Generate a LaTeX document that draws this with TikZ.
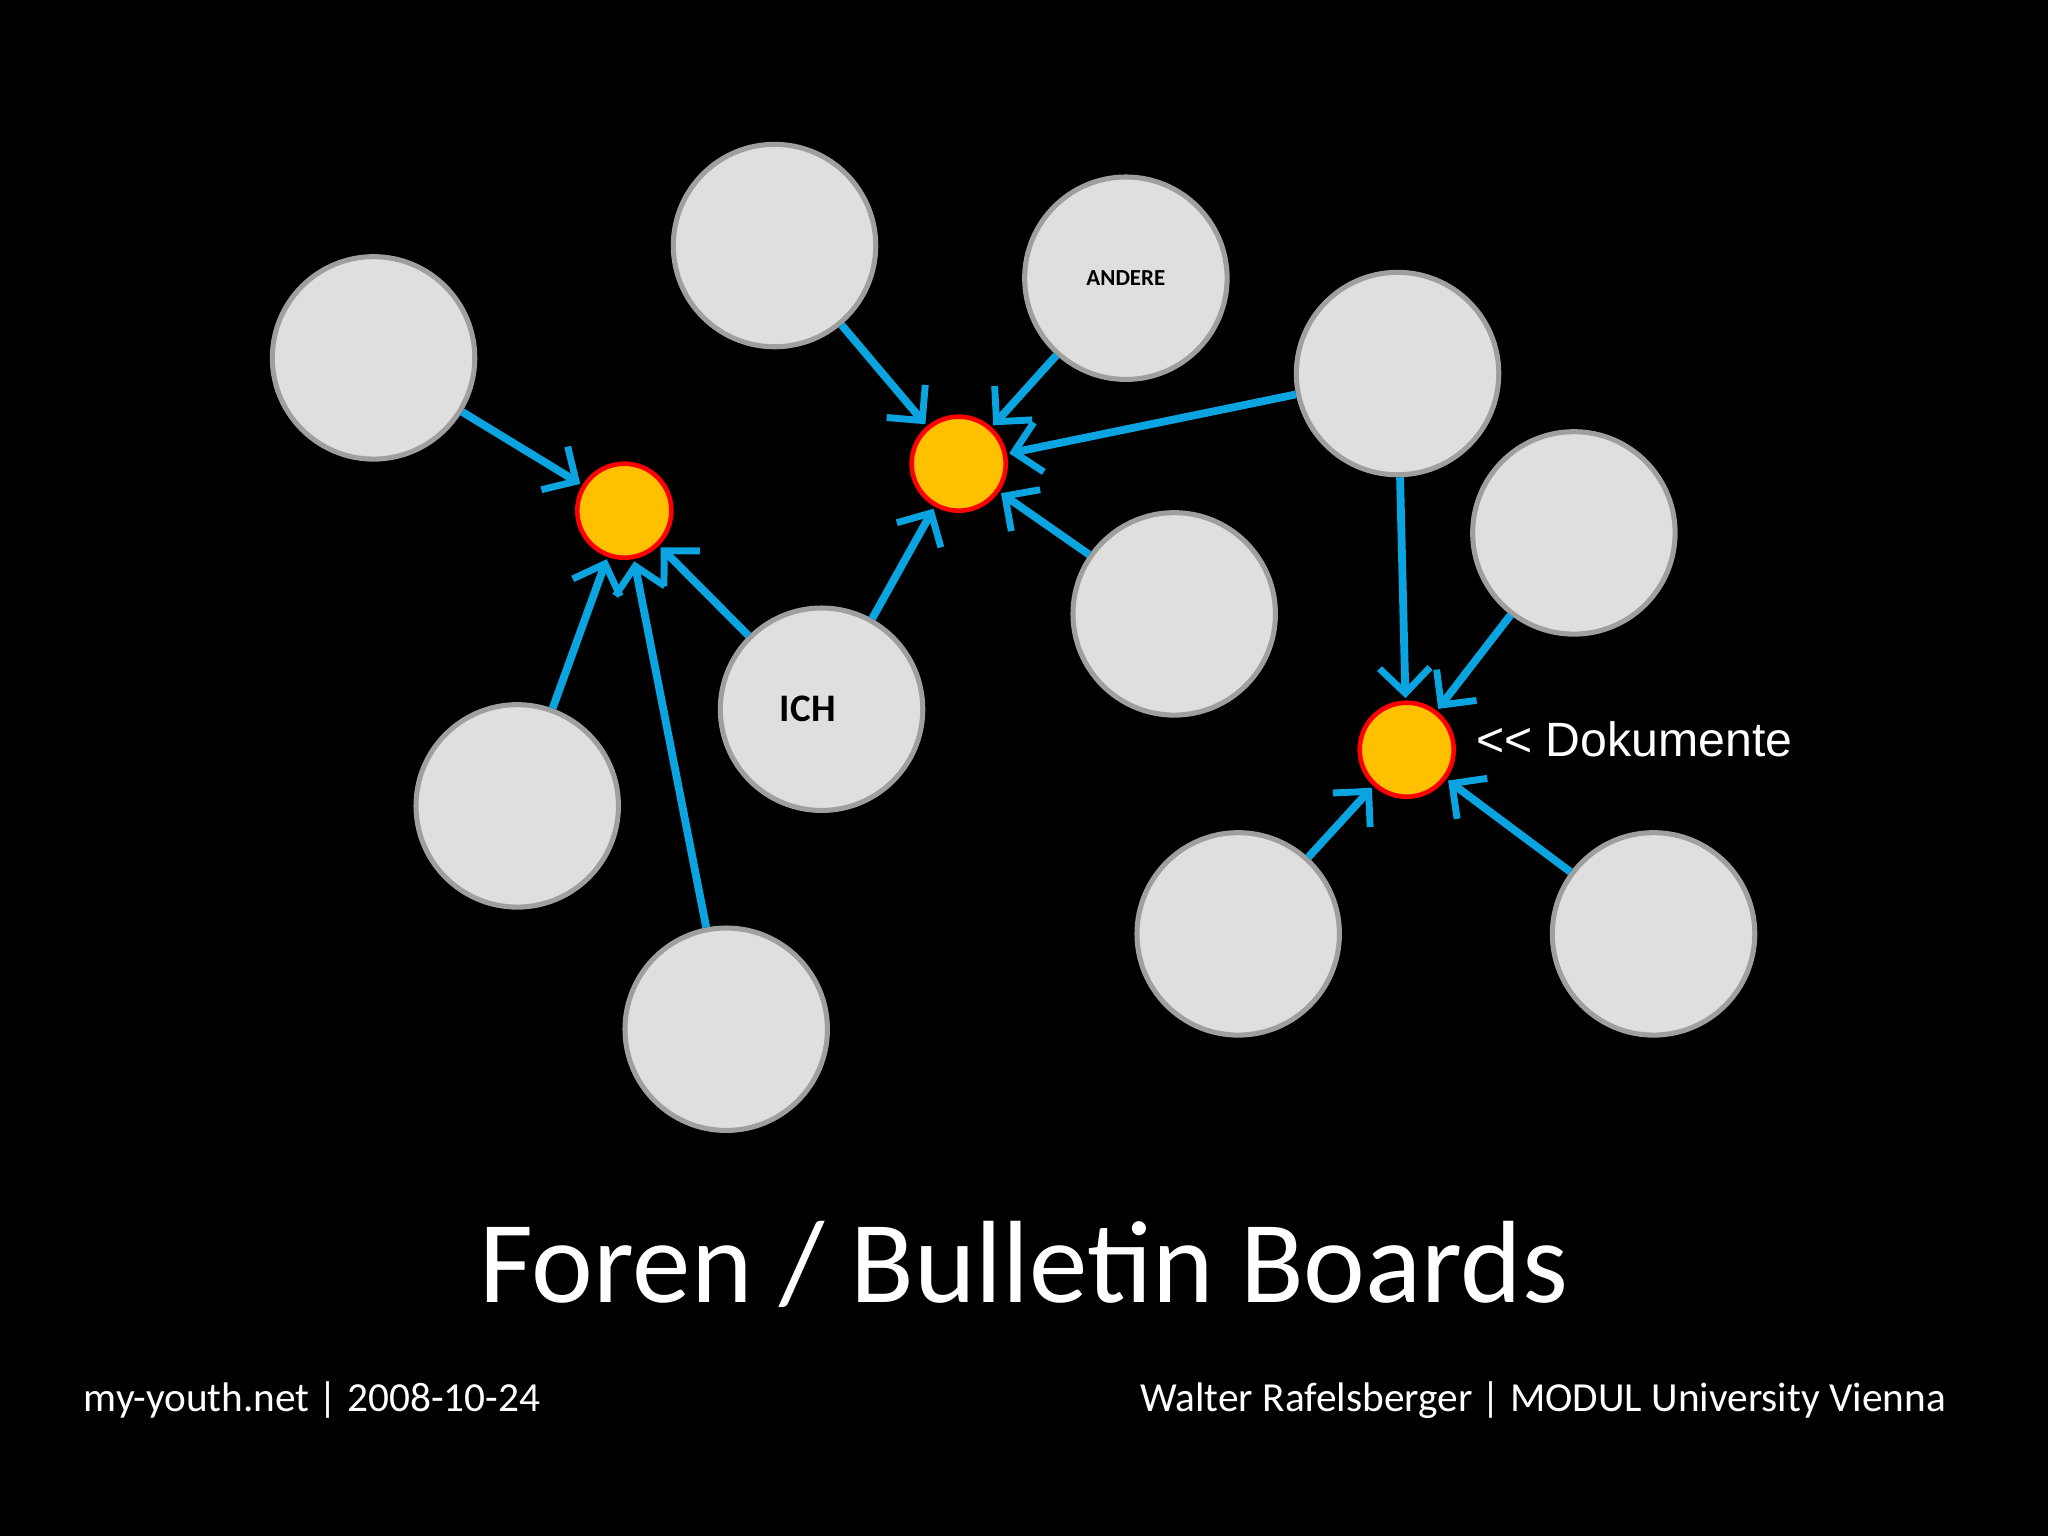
\documentclass[tikz,border=0pt]{standalone}
\usepackage{fontspec}
\setmainfont{Carlito}
\newfontfamily\arialf{Liberation Sans}
\usetikzlibrary{arrows.meta}
\begin{document}
\begin{tikzpicture}[x=0.02cm,y=-0.02cm,
  person/.style={circle,draw=gray!75,line width=2.2pt,fill=gray!25,minimum size=155*0.02cm,inner sep=0},
  hub/.style={circle,draw=red,line width=2pt,fill={rgb,255:red,255;green,192;blue,0},minimum size=72*0.02cm,inner sep=0},
  link/.style={draw={rgb,255:red,10;green,164;blue,224},line width=3.4pt,-{Straight Barb[length=11pt,width=22pt,line width=3pt]},shorten >=1pt}]
\fill[black] (0,0) rectangle (1568,1176);
\node[person] (a) at (286,274) {};
\node[person] (b) at (593,188) {};
\node[person] (c) at (862,213) {\textbf{\fontsize{10}{12}\selectfont ANDERE}};
\node[person] (d) at (1070,286) {};
\node[person] (e) at (1205,408) {};
\node[person] (f) at (899,470) {};
\node[person] (ich) at (629,543) {\hspace*{-12pt}\textbf{\fontsize{17}{20}\selectfont ICH}};
\node[person] (g) at (396,617) {};
\node[person] (h) at (556,788) {};
\node[person] (i) at (948,715) {};
\node[person] (j) at (1266,715) {};
\node[hub] (h1) at (478,391) {};
\node[hub] (h2) at (734,355) {};
\node[hub] (h3) at (1077,574) {};
\foreach \s/\t in {a/h1,g/h1,h/h1,ich/h1,b/h2,c/h2,d/h2,f/h2,ich/h2,d/h3,e/h3,i/h3,j/h3}
  \draw[link] (\s) -- (\t);
\node[anchor=west,text=white,font=\arialf\fontsize{21}{24}\selectfont] (dok) at (1124,566) {<< Dokumente};
\node[text=white,font=\fontsize{51}{60}\selectfont] (title) at (784,968) {Foren / Bulletin Boards};
\node[anchor=west,text=white,font=\fontsize{18}{22}\selectfont] (fl) at (58,1072) {my-youth.net | 2008-10-24};
\node[anchor=east,text=white,font=\fontsize{18}{22}\selectfont] (fr) at (1496,1072) {Walter Rafelsberger | MODUL University Vienna};
\end{tikzpicture}
\end{document}
